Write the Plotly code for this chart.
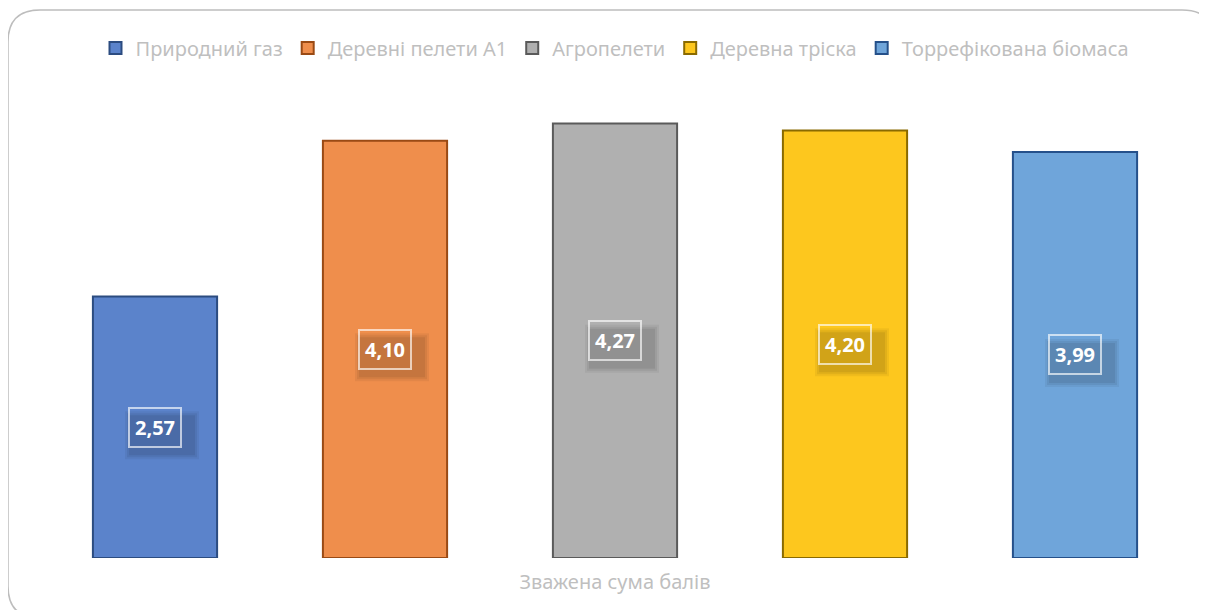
import plotly.graph_objects as go

category = ["Зважена сума балів"]
series_names = ["Природний газ", "Деревні пелети А1", "Агропелети", "Деревна тріска", "Торрефікована біомаса"]
values = [2.57, 4.10, 4.27, 4.20, 3.99]
labels = ["2,57", "4,10", "4,27", "4,20", "3,99"]
fill_colors = ["#5B83CB", "#EF8E4C", "#B0B0B0", "#FDC71E", "#6FA5DA"]
line_colors = ["#2C4C80", "#9A4A14", "#5A5A5A", "#8A6A00", "#25508A"]

W, H = 1207, 610
OFF = 8  # page body margin
# plot area in screen pixels: x 40..1190, y 100..558
L, T = 40 - OFF, 100 - OFF
R = W - (1190 - OFF)
B = H - (558 - OFF)
pw, ph = W - L - R, H - T - B
slot = pw / len(values)

fig = go.Figure()
for name, v, fc, lc in zip(series_names, values, fill_colors, line_colors):
    fig.add_trace(go.Bar(
        name=name, x=category, y=[v],
        marker=dict(color=fc, line=dict(color=lc, width=2)),
        hoverinfo="skip",
    ))

annotations = []
shapes = []
n = len(values)
for i, (v, lab) in enumerate(zip(values, labels)):
    xs = (i - (n - 1) / 2) * slot
    # soft shadow behind the label box
    for k, a in enumerate([0.05, 0.06, 0.07]):
        g = 4 - 2 * k
        shapes.append(dict(
            type="rect", xref="x", yref="y", xsizemode="pixel", ysizemode="pixel",
            xanchor=category[0], yanchor=v / 2,
            x0=xs - 26 - g, x1=xs + 40 + g, y0=-28 - g, y1=12 + g,
            line=dict(width=0), fillcolor=f"rgba(0,0,0,{a})", layer="above",
        ))
    annotations.append(dict(
        x=category[0], y=v / 2, xref="x", yref="y", text="<b>" + lab + "</b>", showarrow=False,
        xshift=xs,
        font=dict(family="Noto Sans", size=20, color="white"),
        bgcolor="rgba(0,0,0,0.0)", borderpad=5, borderwidth=2,
        bordercolor="rgba(255,255,255,0.65)",
    ))

def px(x):
    return (x - OFF - L) / pw

def py(y):
    return (H - B - (y - OFF)) / ph

x0, y0, x1, y1, r = 8, 10, 1214, 618, 32
path = (f"M {px(x0)},{py(y0 + r)} Q {px(x0)},{py(y0)} {px(x0 + r)},{py(y0)} "
        f"L {px(x1 - r)},{py(y0)} Q {px(x1)},{py(y0)} {px(x1)},{py(y0 + r)} "
        f"L {px(x1)},{py(y1 - r)} Q {px(x1)},{py(y1)} {px(x1 - r)},{py(y1)} "
        f"L {px(x0 + r)},{py(y1)} Q {px(x0)},{py(y1)} {px(x0)},{py(y1 - r)} Z")
shapes.append(dict(type="path", path=path, xref="paper", yref="paper",
                   line=dict(color="#BDBDBD", width=1.5), fillcolor="rgba(0,0,0,0)", layer="below"))

fig.update_layout(
    width=W, height=H,
    margin=dict(l=L, r=R, t=T, b=B),
    paper_bgcolor="white", plot_bgcolor="white",
    barmode="group", bargap=0, bargroupgap=0.46,
    showlegend=True,
    legend=dict(orientation="h", x=0.5, xanchor="center", y=1.0 + 52 / ph, yanchor="middle",
                font=dict(family="Noto Sans", size=20, color="#BFBFBF"),
                itemwidth=30, traceorder="normal"),
    xaxis=dict(showgrid=False, showline=False, zeroline=False, ticks="", ticklabelstandoff=10,
               tickfont=dict(family="Noto Sans", size=20, color="#BFBFBF")),
    yaxis=dict(range=[0, 4.5], visible=False, showgrid=False, zeroline=False),
    annotations=annotations,
    shapes=shapes,
)

fig.write_html("out.html")
